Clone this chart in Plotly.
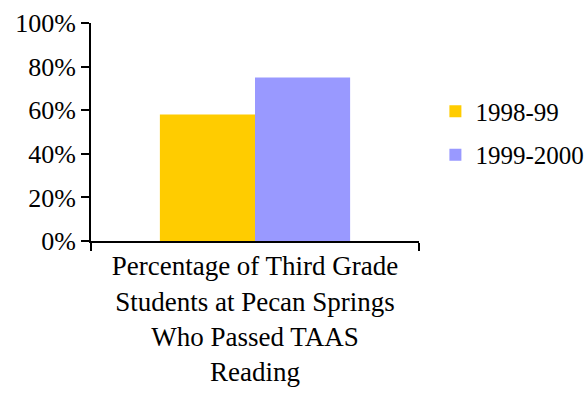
import plotly.graph_objects as go

categories = ["Percentage of Third Grade<br>Students at Pecan Springs<br>Who Passed TAAS<br>Reading"]
series_names = ["1998-99", "1999-2000"]
values_1998 = [0.58]
values_1999 = [0.75]
colors = ["#FFCC00", "#9999FF"]

fig = go.Figure()
fig.add_trace(go.Bar(x=categories, y=values_1998, name=series_names[0], legendgroup="a",
                     marker_color=colors[0], marker_line_width=0))
fig.add_trace(go.Bar(x=categories, y=values_1999, name=series_names[1], legendgroup="b",
                     marker_color=colors[1], marker_line_width=0))

fig.update_layout(
    width=588, height=400,
    margin=dict(l=91, r=169, t=23, b=159, autoexpand=False),
    paper_bgcolor="white", plot_bgcolor="white",
    barmode="group", bargap=0.42, bargroupgap=0,
    font=dict(family="serif", size=26, color="black"),
    showlegend=True,
    legend=dict(x=1.05, y=0.70, xanchor="left", yanchor="top",
                font=dict(family="serif", size=25), traceorder="grouped", tracegroupgap=8,
                itemwidth=30, bgcolor="rgba(0,0,0,0)"),
)
fig.update_xaxes(
    type="category", showline=True, linecolor="black", linewidth=2,
    ticks="outside", tickson="boundaries", ticklen=8, tickwidth=2, tickcolor="black",
    showgrid=False, automargin=False,
    tickfont=dict(family="serif", size=27),
)
fig.update_yaxes(
    range=[0, 1], dtick=0.2, tickformat=".0%", showline=True, linecolor="black", linewidth=2,
    ticks="outside", ticklen=8, tickwidth=2, tickcolor="black", showgrid=False, zeroline=False,
    automargin=False, tickfont=dict(family="Liberation Serif", size=26),
)
post = """
document.body.style.margin='0';
var st = document.createElement('style');
st.textContent = '.modebar-container{display:none !important;}';
document.head.appendChild(st);
"""
fig.write_html("out.html", post_script=post)
